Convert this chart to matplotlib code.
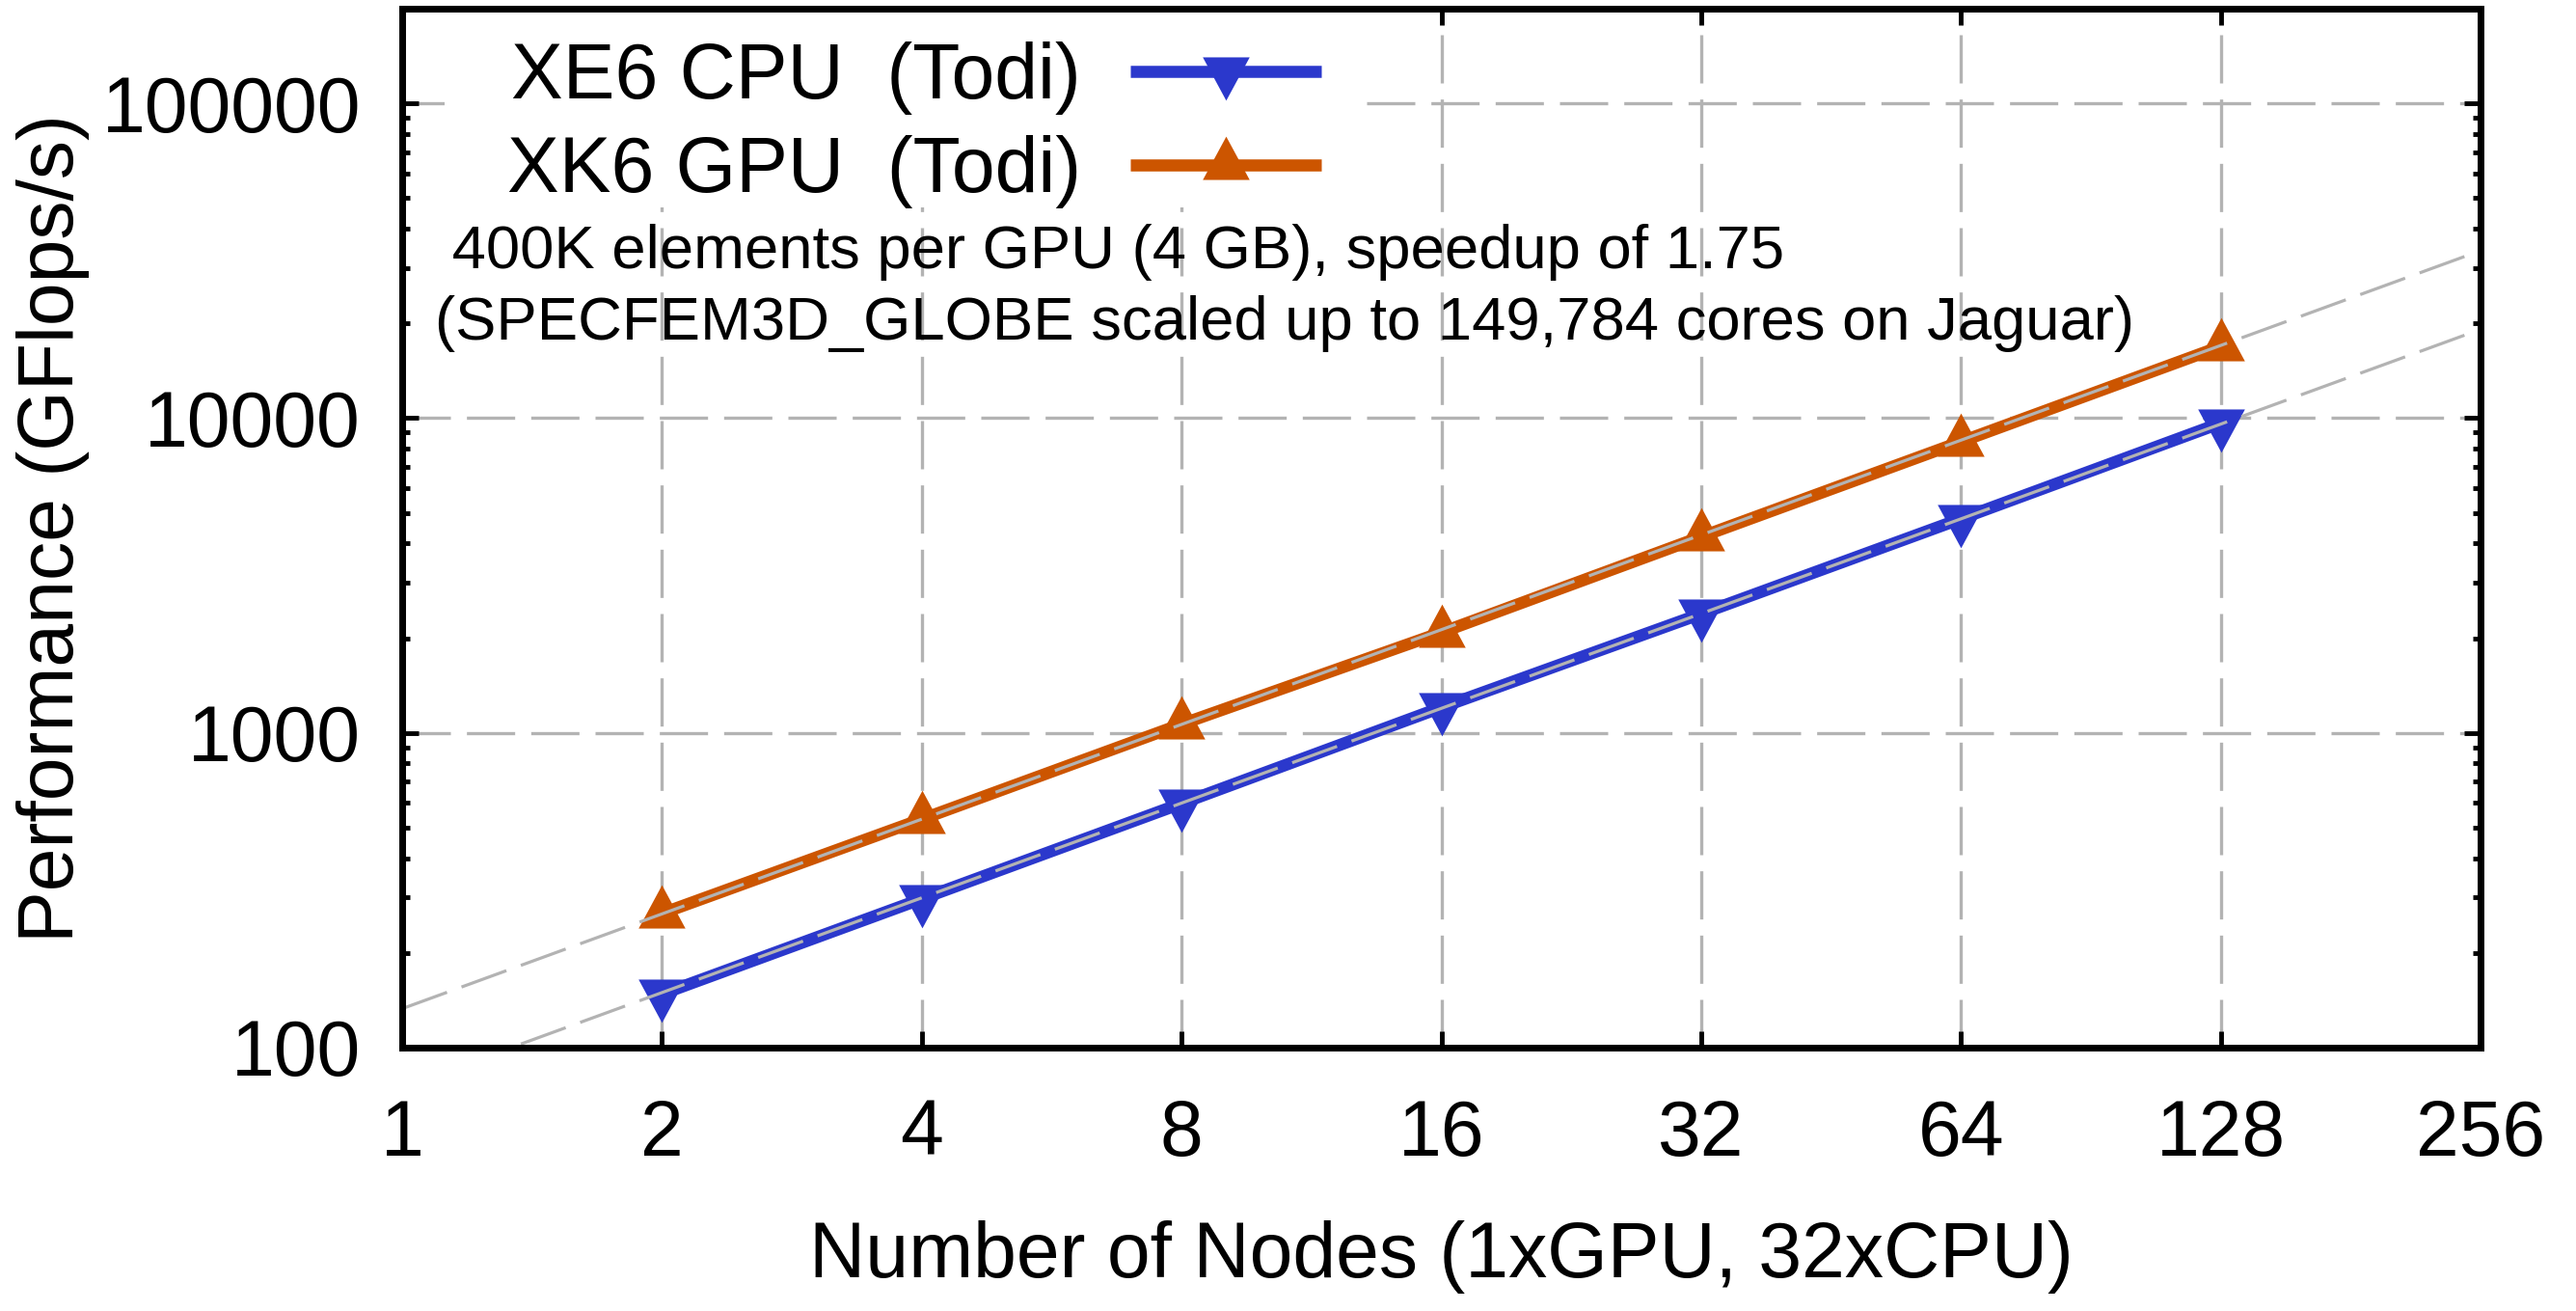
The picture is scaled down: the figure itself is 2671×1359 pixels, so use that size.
import matplotlib
matplotlib.use("Agg")
import matplotlib.pyplot as plt
from matplotlib.patches import Rectangle
import numpy as np

plt.rcParams['font.family'] = ['Liberation Sans', 'DejaVu Sans']

# ---------------- data ----------------
nodes = [2, 4, 8, 16, 32, 64, 128]
cpu_gflops = [148, 297, 597, 1205, 2390, 4790, 9650]      # XE6 CPU (Todi)
gpu_gflops = [267, 532, 1066, 2085, 4200, 8420, 16900]    # XK6 GPU (Todi)

ideal_nodes = [1, 256]
ideal_cpu_per_node = 74.8
ideal_gpu_per_node = 133.0

x_ticks = [1, 2, 4, 8, 16, 32, 64, 128, 256]
x_tick_labels = ['1', '2', '4', '8', '16', '32', '64', '128', '256']
y_ticks = [100, 1000, 10000, 100000]
y_tick_labels = ['100', '1000', '10000', '100000']

series_labels = ['XE6 CPU  (Todi)', 'XK6 GPU  (Todi)']
note_line1 = ' 400K elements per GPU (4 GB), speedup of 1.75'
note_line2 = '(SPECFEM3D_GLOBE scaled up to 149,784 cores on Jaguar)'
xlabel = 'Number of Nodes (1xGPU, 32xCPU)'
ylabel = 'Performance (GFlops/s)'

# ---------------- style ----------------
W, H = 2671, 1359
DPI = 100
blue = '#2b38cc'
orange = '#cc5500'
grey = '#b3b3b3'
FS = 58
NOTE_FS = 45.6

fig = plt.figure(figsize=(W / DPI, H / DPI), dpi=DPI)
L, R, T, B = 417, 2572, 9, 1086
ax = fig.add_axes([L / W, 1 - B / H, (R - L) / W, (B - T) / H])

ax.set_xscale('log', base=2)
ax.set_yscale('log')
ax.set_xlim(1, 256)
ax.set_ylim(100, 200000)

tri_up = [(0, 1.23), (-1, -0.62), (1, -0.62), (0, 1.23)]
tri_dn = [(x, -y) for x, y in tri_up]

l1, = ax.plot(nodes, cpu_gflops, color=blue, lw=9, marker=tri_dn, ms=43,
              mew=0, zorder=3, label=series_labels[0], solid_capstyle='butt')
l2, = ax.plot(nodes, gpu_gflops, color=orange, lw=9, marker=tri_up, ms=43,
              mew=0, zorder=3, label=series_labels[1], solid_capstyle='butt')

ideal_lw = 2.3
ax.plot(ideal_nodes, [ideal_cpu_per_node * n for n in ideal_nodes], color=grey,
        lw=ideal_lw, dashes=(15.5, 5), zorder=4)
ax.plot(ideal_nodes, [ideal_gpu_per_node * n for n in ideal_nodes], color=grey,
        lw=ideal_lw, dashes=(15.5, 5), zorder=4)

# grid
ax.grid(True, which='major', color=grey, lw=2.4, dashes=(15, 5))
ax.set_axisbelow(True)

# ticks
ax.set_xticks(x_ticks)
ax.set_xticklabels(x_tick_labels)
ax.xaxis.set_minor_locator(matplotlib.ticker.NullLocator())
ax.set_yticks(y_ticks)
ax.set_yticklabels(y_tick_labels)
ax.yaxis.set_minor_locator(matplotlib.ticker.LogLocator(base=10, subs=np.arange(2, 10)))
ax.yaxis.set_minor_formatter(matplotlib.ticker.NullFormatter())
ax.tick_params(axis='both', which='major', direction='in', length=12, width=3.5,
               top=True, right=True, labelsize=FS)
ax.tick_params(axis='both', which='minor', direction='in', length=6, width=3.5,
               top=True, right=True)
ax.tick_params(axis='x', which='major', pad=38)
ax.tick_params(axis='y', which='major', pad=31)

for s in ax.spines.values():
    s.set_linewidth(5)
    s.set_zorder(6)

# labels
ax.set_xlabel(xlabel, fontsize=FS)
ax.xaxis.set_label_coords(0.5, -0.2015)
ax.xaxis.label.set_va('center')
ax.set_ylabel(ylabel, fontsize=FS)
ax.yaxis.set_label_coords(-0.168, 0.5)
ax.yaxis.label.set_va('center')

# opaque legend area
ax.add_patch(Rectangle(((461 - L) / (R - L), (B - 215) / (B - T)),
                       (1414 - 461) / (R - L), 1.0, transform=ax.transAxes,
                       facecolor='white', edgecolor='none', zorder=1.8,
                       clip_on=True))

leg = ax.legend(handles=[l1, l2], loc='upper left',
                bbox_to_anchor=((526 - L) / (R - L), (B - 43) / (B - T)),
                frameon=False, markerfirst=False, fontsize=FS, borderpad=0,
                borderaxespad=0, handlelength=2.46, handletextpad=0.63,
                labelspacing=0.26, numpoints=1)

ax.text((451 - L) / (R - L), (B - 278) / (B - T), note_line1, transform=ax.transAxes,
        fontsize=NOTE_FS, ha='left', va='baseline', zorder=7)
ax.text((451 - L) / (R - L), (B - 352) / (B - T), note_line2, transform=ax.transAxes,
        fontsize=NOTE_FS, ha='left', va='baseline', zorder=7)

fig.savefig('out.png', dpi=DPI)
